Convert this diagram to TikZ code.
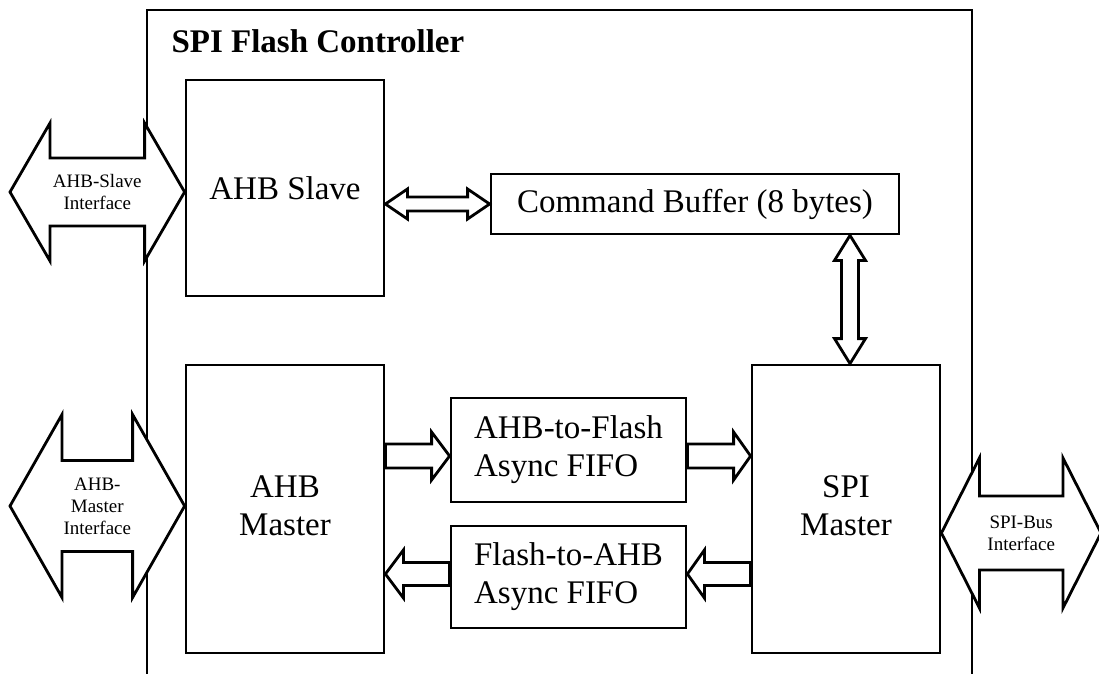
\documentclass[tikz,border=0pt]{standalone}
\usepackage{fontspec}
\setmainfont{Liberation Serif}
\usetikzlibrary{calc}

\newcommand{\hollowarrow}[5]{%
  \coordinate (hb) at ($(#2)!#5!(#1)$);
  \draw[fat] ($(#1)!#3!90:(#2)$) -- ($(hb)!#3!90:(#2)$) -- ($(hb)!#4!90:(#2)$) -- (#2)
    -- ($(hb)!#4!-90:(#2)$) -- ($(hb)!#3!-90:(#2)$) -- ($(#1)!#3!-90:(#2)$) -- cycle;
}
\newcommand{\hollowdarrow}[5]{%
  \coordinate (hb1) at ($(#1)!#5!(#2)$);
  \coordinate (hb2) at ($(#2)!#5!(#1)$);
  \draw[fat] (#1) -- ($(hb1)!#4!90:(#2)$) -- ($(hb1)!#3!90:(#2)$) -- ($(hb2)!#3!90:(#2)$)
    -- ($(hb2)!#4!90:(#2)$) -- (#2) -- ($(hb2)!#4!-90:(#2)$) -- ($(hb2)!#3!-90:(#2)$)
    -- ($(hb1)!#3!-90:(#2)$) -- ($(hb1)!#4!-90:(#2)$) -- cycle;
}

\begin{document}
\begin{tikzpicture}[
  x=1pt, y=-1pt,
  blk/.style={draw, line width=2.8pt, fill=white, font=\fontsize{33}{38}\selectfont},
  fifo/.style={blk, align=left, minimum width=235pt},
  ifl/.style={font=\fontsize{19}{22}\selectfont, align=center, inner sep=0pt},
  fat/.style={draw, line width=2.8pt, fill=white}
]
\useasboundingbox (0,0) rectangle (1099,673);
\clip (0,0) rectangle (1099,673);

\node[draw, line width=2.8pt, minimum width=825pt, minimum height=720pt, inner sep=0pt] (ctrl) at (559.5,370) {};
\node[anchor=base west, font=\fontsize{33}{38}\selectfont\bfseries] (ttl) at (168,52) {SPI Flash Controller};

\node[blk, minimum width=198pt, minimum height=216pt] (ahbs) at (285,188) {AHB Slave};
\node[blk, minimum width=408pt, minimum height=60pt] (cmdbuf) at (695,204) {Command Buffer (8 bytes)};
\node[blk, minimum width=198pt, minimum height=288pt] (ahbm) at (285,509) {\raisebox{15pt}{\begin{tabular}{@{}c@{}}AHB\\Master\end{tabular}}};
\node[blk, minimum width=188pt, minimum height=288pt] (spim) at (846,509) {\raisebox{15pt}{\begin{tabular}{@{}c@{}}SPI\\Master\end{tabular}}};
\node[fifo, minimum height=104pt] (fifoa) at (568.5,450) {AHB-to-Flash\\Async FIFO};
\node[fifo, minimum height=102pt] (fifob) at (568.5,577) {Flash-to-AHB\\Async FIFO};

\coordinate (ahbsif) at (10,192);
\coordinate (ahbmif) at (10,506);
\coordinate (spibus) at (1101,533);
\coordinate (cbx) at (850,0);
\coordinate (a2f) at (0,456);
\coordinate (f2a) at (0,574);

\hollowdarrow{ahbsif}{ahbs.west |- ahbsif}{34pt}{69pt}{40pt}
\node[ifl] (ahbsif-t) at ($(ahbsif)!.5!(ahbs.west |- ahbsif)$) {AHB-Slave\\Interface};
\hollowdarrow{ahbmif}{ahbm.west |- ahbmif}{45.5pt}{91.5pt}{52pt}
\node[ifl] (ahbmif-t) at ($(ahbmif)!.5!(ahbm.west |- ahbmif)$) {AHB-\\Master\\Interface};
\hollowdarrow{spim.east |- spibus}{spibus}{37pt}{75pt}{38pt}
\node[ifl] (spibus-t) at ($(spim.east |- spibus)!.5!(spibus)$) {SPI-Bus\\Interface};

\hollowdarrow{ahbs.east |- cmdbuf.west}{cmdbuf.west}{7pt}{15pt}{22pt}
\hollowdarrow{cbx |- cmdbuf.south}{cbx |- spim.north}{8.5pt}{15.5pt}{25pt}
\hollowarrow{ahbm.east |- a2f}{fifoa.west |- a2f}{12pt}{24pt}{18pt}
\hollowarrow{fifoa.east |- a2f}{spim.west |- a2f}{12pt}{24pt}{17pt}
\hollowarrow{spim.west |- f2a}{fifob.east |- f2a}{11.5pt}{24pt}{17pt}
\hollowarrow{fifob.west |- f2a}{ahbm.east |- f2a}{11.5pt}{24pt}{18pt}

\end{tikzpicture}
\end{document}
